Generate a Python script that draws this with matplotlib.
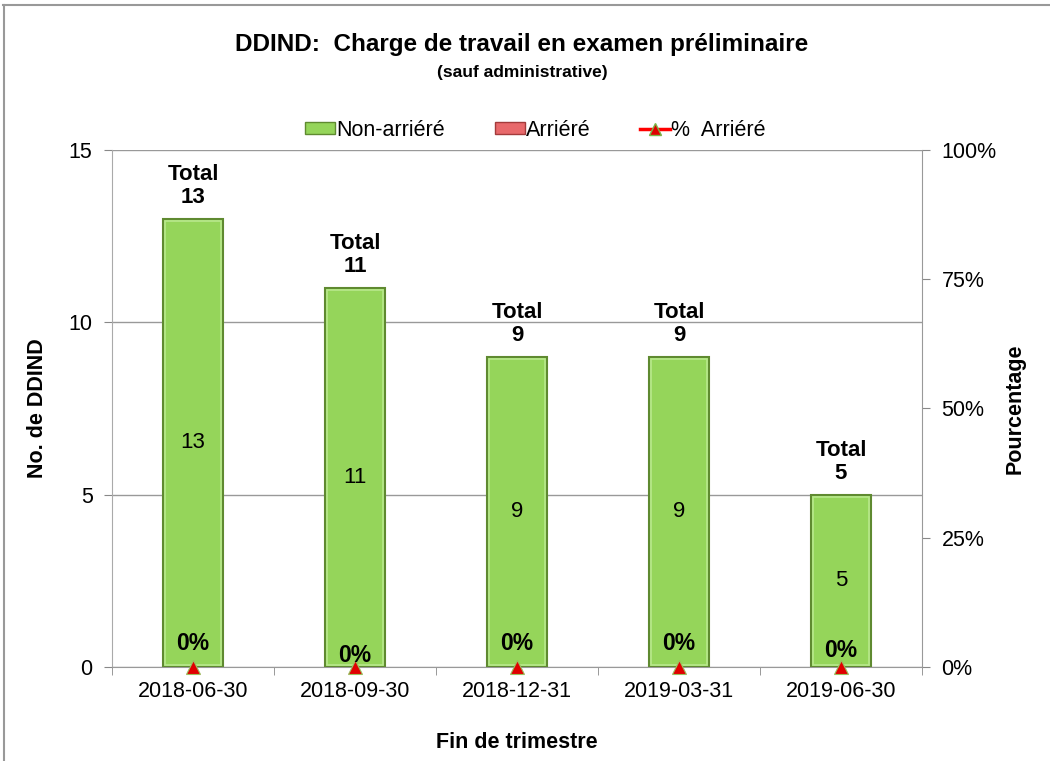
import matplotlib
matplotlib.use("Agg")
import matplotlib.pyplot as plt
import numpy as np
from matplotlib.lines import Line2D
from matplotlib.patches import Patch
from matplotlib.ticker import FuncFormatter

plt.rcParams["font.family"] = ["Liberation Sans", "DejaVu Sans"]

quarters = ["2018-06-30", "2018-09-30", "2018-12-31", "2019-03-31", "2019-06-30"]
non_arriere = [13, 11, 9, 9, 5]
arriere = [0, 0, 0, 0, 0]
pct_arriere = [0.0, 0.0, 0.0, 0.0, 0.0]
# vertical offsets (points) of the "0%" labels, as placed in the original
pct_label_offsets = [17, 8.5, 17, 17, 12]

GREEN = "#95D55A"
GREEN_EDGE = "#5F8A30"
GREEN_LIGHT = "#B8E88C"
RED = "#E8696B"
RED_EDGE = "#A33B3B"

fig = plt.figure(figsize=(10.5, 7.61), dpi=100)
ax = fig.add_axes([0.1067, 0.1235, 0.7714, 0.6795])
ax2 = ax.twinx()

x = np.arange(len(quarters))
width = 0.37
totals = [a + b for a, b in zip(non_arriere, arriere)]

ax.bar(x, non_arriere, width, color=GREEN, edgecolor=GREEN_EDGE, linewidth=1.5, zorder=3)
# light inner rim for the bevel look
ax.bar(x, [v - 0.12 for v in non_arriere], width - 0.03, bottom=0.06, color="none",
       edgecolor=GREEN_LIGHT, linewidth=1.2, zorder=4)
ax.bar(x, arriere, width, bottom=non_arriere, color=RED, linewidth=0, zorder=3)

for xi, v, t in zip(x, non_arriere, totals):
    ax.text(xi, v / 2, f"{v}", ha="center", va="center", fontsize=16, zorder=5)
    ax.annotate(f"Total\n{t}", (xi, t), xytext=(0, 8), textcoords="offset points",
                ha="center", va="bottom", fontsize=16, fontweight="bold",
                linespacing=1.1, zorder=5)

ax.set_ylim(0, 15)
ax.set_yticks([0, 5, 10, 15])
ax.set_xlim(-0.5, len(quarters) - 0.5)
ax.set_xticks(x)
ax.set_xticklabels(quarters, fontsize=15.5)
ax.set_xticks(np.arange(-0.5, len(quarters)), minor=True)
ax.tick_params(axis="x", which="major", length=0, pad=10)
ax.tick_params(axis="x", which="minor", length=6, color="#888888")
ax.tick_params(axis="y", labelsize=15.5, length=6, color="#888888", pad=8)
ax.grid(axis="y", color="#999999", linewidth=1, zorder=0)
ax.set_axisbelow(True)
for side in ["top", "right"]:
    ax.spines[side].set_visible(False)
ax.spines["left"].set_color("#aaaaaa")
ax.spines["bottom"].set_color("#999999")
ax.set_ylabel("No. de DDIND", fontsize=15.5, fontweight="bold", labelpad=15)
ax.set_xlabel("Fin de trimestre", fontsize=15.5, fontweight="bold", labelpad=22)

ax2.plot(x, pct_arriere, linestyle="none", marker="^", markersize=10,
         markerfacecolor="#E00000", markeredgecolor="#9CC060", markeredgewidth=0.8,
         clip_on=False, zorder=6)
for xi, p, off in zip(x, pct_arriere, pct_label_offsets):
    ax2.annotate(f"{p:.0%}", (xi, p), xytext=(0, off), textcoords="offset points",
                 ha="center", va="center", fontsize=16.5, fontweight="bold", zorder=7)
ax2.set_ylim(0, 1)
ax2.set_yticks([0, 0.25, 0.5, 0.75, 1.0])
ax2.yaxis.set_major_formatter(FuncFormatter(lambda v, _: f"{v:.0%}"))
ax2.tick_params(axis="y", labelsize=15.5, length=6, color="#888888", pad=8)
for side in ["top", "left", "bottom"]:
    ax2.spines[side].set_visible(False)
ax2.spines["right"].set_color("#999999")
ax2.set_ylabel("Pourcentage", fontsize=15.5, fontweight="bold", rotation=90, labelpad=6)

handles = [
    Patch(facecolor=GREEN, edgecolor=GREEN_EDGE),
    Patch(facecolor=RED, edgecolor=RED_EDGE),
    Line2D([0], [0], color="red", linewidth=2.5, marker="^", markersize=9,
           markerfacecolor="#E00000", markeredgecolor="#7AB648"),
]
fig.legend(handles, ["Non-arriéré", "Arriéré", "%  Arriéré"], loc="center",
           bbox_to_anchor=(0.51, 0.829), ncol=3, frameon=False, fontsize=15.5,
           handlelength=1.4, handleheight=0.5, handletextpad=0.05, columnspacing=2.3)

fig.text(0.497, 0.941, "DDIND:  Charge de travail en examen préliminaire",
         ha="center", va="center", fontsize=17.5, fontweight="bold")
fig.text(0.497, 0.905, "(sauf administrative)", ha="center", va="center",
         fontsize=12.5, fontweight="bold")

# outer chart frame (top and left edges visible in the crop)
fig.add_artist(Line2D([0.003, 1.0], [0.993, 0.993], color="#999999", linewidth=1.5))
fig.add_artist(Line2D([0.004, 0.004], [0.0, 0.993], color="#999999", linewidth=1.5))

fig.savefig("out.png", dpi=100)
